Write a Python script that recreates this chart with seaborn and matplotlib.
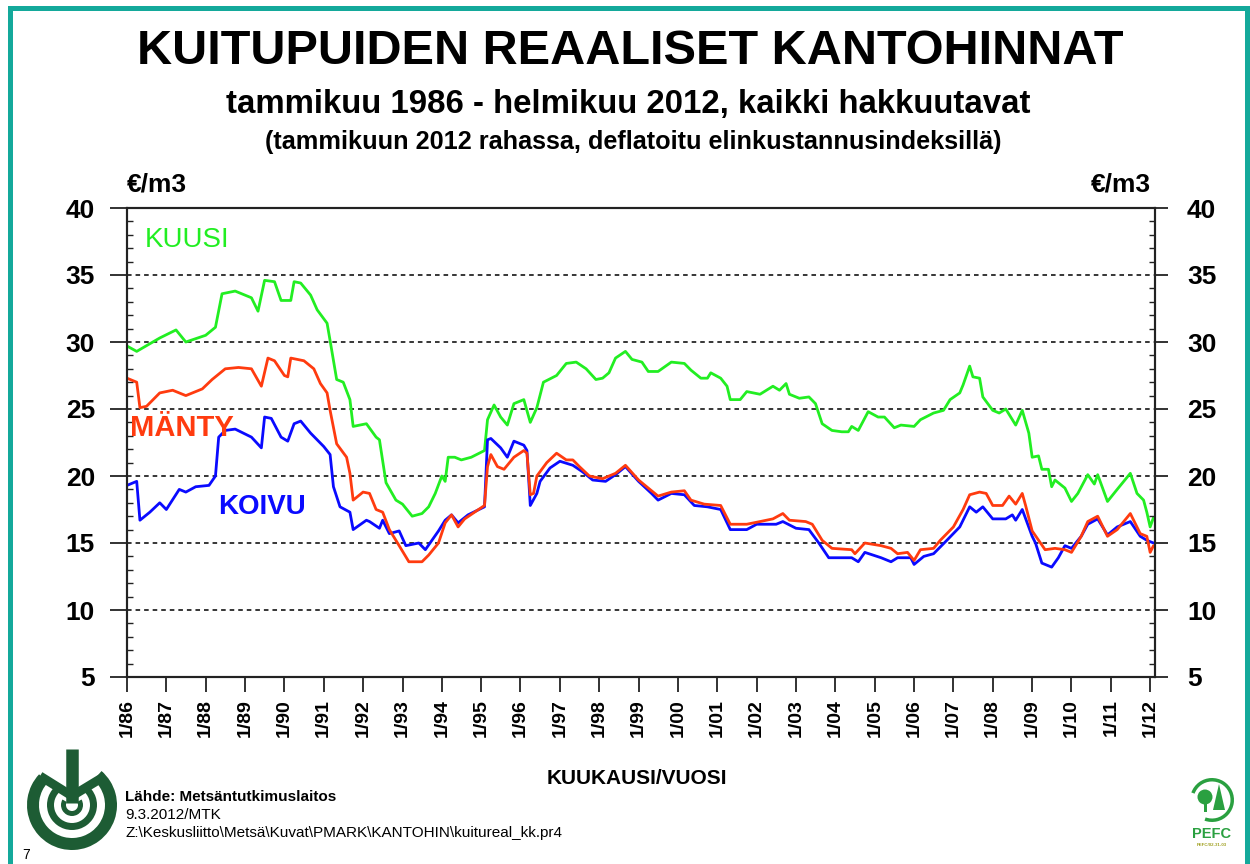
"""Kuitupuiden reaaliset kantohinnat 1986-2012 (kuusi, mänty, koivu)."""
import matplotlib
matplotlib.use("Agg")
import matplotlib.pyplot as plt
import matplotlib.dates as mdates
from matplotlib.patches import Rectangle, Wedge, Circle, Polygon
from matplotlib.ticker import MultipleLocator, FuncFormatter
import pandas as pd
import seaborn as sns

# --- data (€/m3, tammikuun 2012 rahassa) ---
KUUSI_DATES = [
    "1986-01", "1986-04", "1986-11",
    "1987-04", "1987-07",
    "1988-01", "1988-04", "1988-06", "1988-10",
    "1989-03", "1989-05", "1989-07", "1989-10", "1989-12",
    "1990-03", "1990-04", "1990-06", "1990-09", "1990-11",
    "1991-02", "1991-03", "1991-05", "1991-07", "1991-09", "1991-10",
    "1992-02", "1992-05", "1992-06", "1992-08", "1992-11",
    "1993-01", "1993-04", "1993-07", "1993-09", "1993-11",
    "1994-01", "1994-02", "1994-03", "1994-05", "1994-07", "1994-10",
    "1995-02", "1995-03", "1995-05", "1995-07", "1995-09", "1995-11",
    "1996-02", "1996-04", "1996-06", "1996-08", "1996-12",
    "1997-03", "1997-06", "1997-09", "1997-12",
    "1998-02", "1998-04", "1998-06", "1998-09", "1998-11",
    "1999-02", "1999-04", "1999-07", "1999-11",
    "2000-03", "2000-05", "2000-08", "2000-10", "2000-11",
    "2001-02", "2001-04", "2001-05", "2001-08", "2001-10",
    "2002-02", "2002-06", "2002-08", "2002-10", "2002-11",
    "2003-02", "2003-05", "2003-07", "2003-09", "2003-12",
    "2004-03", "2004-05", "2004-06", "2004-08", "2004-11",
    "2005-02", "2005-04", "2005-07", "2005-09",
    "2006-01", "2006-03", "2006-07", "2006-10", "2006-12",
    "2007-03", "2007-04", "2007-06", "2007-07", "2007-09", "2007-10",
    "2008-01", "2008-03", "2008-05", "2008-08", "2008-10", "2008-12",
    "2009-01", "2009-03", "2009-04", "2009-06", "2009-07", "2009-08", "2009-11",
    "2010-01", "2010-03", "2010-06", "2010-08", "2010-09", "2010-12",
    "2011-03", "2011-07", "2011-09", "2011-11", "2011-12",
    "2012-01", "2012-02",
]
KUUSI_VALUES = [
    29.7, 29.3, 30.3,
    30.9, 30.0,
    30.5, 31.1, 33.6, 33.8,
    33.3, 32.3, 34.6, 34.5, 33.1,
    33.1, 34.5, 34.4, 33.5, 32.4,
    31.4, 30.1, 27.2, 27.0, 25.7, 23.7,
    23.9, 22.9, 22.7, 19.5, 18.2,
    17.9, 17.0, 17.2, 17.7, 18.7,
    20.0, 19.6, 21.4, 21.4, 21.2, 21.4,
    21.9, 24.2, 25.3, 24.4, 23.8, 25.4,
    25.7, 24.0, 25.1, 27.0, 27.5,
    28.4, 28.5, 28.0, 27.2,
    27.3, 27.7, 28.8, 29.3, 28.7,
    28.5, 27.8, 27.8, 28.5,
    28.4, 27.9, 27.3, 27.3, 27.7,
    27.3, 26.7, 25.7, 25.7, 26.3,
    26.1, 26.7, 26.4, 26.9, 26.1,
    25.8, 25.9, 25.4, 23.9, 23.4,
    23.3, 23.3, 23.7, 23.4, 24.8,
    24.4, 24.4, 23.6, 23.8,
    23.7, 24.2, 24.7, 24.9, 25.7,
    26.2, 26.8, 28.2, 27.4, 27.3, 25.9,
    24.9, 24.7, 25.0, 23.8, 24.9, 23.2,
    21.4, 21.5, 20.5, 20.5, 19.2, 19.7, 19.1,
    18.1, 18.7, 20.1, 19.4, 20.1, 18.1,
    19.0, 20.2, 18.7, 18.2, 17.3,
    16.2, 16.9,
]

MANTY_DATES = [
    "1986-01", "1986-04", "1986-05", "1986-07", "1986-11",
    "1987-03", "1987-07", "1987-12",
    "1988-03", "1988-07", "1988-11",
    "1989-03", "1989-06", "1989-08", "1989-10",
    "1990-01", "1990-02", "1990-03", "1990-07", "1990-10", "1990-12",
    "1991-02", "1991-03", "1991-05", "1991-08", "1991-09", "1991-10",
    "1992-01", "1992-03", "1992-05", "1992-07", "1992-09", "1992-12",
    "1993-03", "1993-07", "1993-09", "1993-12",
    "1994-02", "1994-04", "1994-06", "1994-08", "1994-11",
    "1995-02", "1995-03", "1995-04", "1995-06", "1995-08", "1995-11",
    "1996-02", "1996-03", "1996-04", "1996-05", "1996-06", "1996-09", "1996-12",
    "1997-03", "1997-05", "1997-07", "1997-10",
    "1998-02", "1998-06", "1998-09",
    "1999-01", "1999-04", "1999-07", "1999-11",
    "2000-03", "2000-05", "2000-09",
    "2001-02", "2001-05", "2001-10",
    "2002-02", "2002-06", "2002-09", "2002-11",
    "2003-04", "2003-06", "2003-09", "2003-12",
    "2004-06", "2004-07", "2004-10",
    "2005-03", "2005-06", "2005-08", "2005-11",
    "2006-01", "2006-03", "2006-07", "2006-09",
    "2007-01", "2007-04", "2007-06", "2007-09", "2007-11",
    "2008-01", "2008-04", "2008-06", "2008-08", "2008-10", "2008-11",
    "2009-01", "2009-05", "2009-08", "2009-11",
    "2010-01", "2010-04", "2010-06", "2010-09", "2010-12",
    "2011-03", "2011-07", "2011-10", "2011-12",
    "2012-01", "2012-02",
]
MANTY_VALUES = [
    27.3, 27.0, 25.1, 25.2, 26.2,
    26.4, 26.0, 26.5,
    27.2, 28.0, 28.1,
    28.0, 26.7, 28.8, 28.6,
    27.5, 27.4, 28.8, 28.6, 28.0, 26.9,
    26.2, 24.9, 22.4, 21.4, 20.2, 18.2,
    18.8, 18.7, 17.5, 17.3, 16.0, 14.8,
    13.6, 13.6, 14.1, 15.0,
    16.5, 17.1, 16.2, 16.8, 17.3,
    17.8, 20.7, 21.6, 20.7, 20.5, 21.4,
    21.9, 21.7, 18.6, 18.7, 20.0, 21.0, 21.7,
    21.2, 21.2, 20.7, 20.0,
    19.8, 20.2, 20.8,
    19.7, 19.1, 18.5, 18.8,
    18.9, 18.2, 17.9,
    17.8, 16.4, 16.4,
    16.6, 16.8, 17.2, 16.7,
    16.6, 16.4, 15.2, 14.6,
    14.5, 14.2, 15.0,
    14.8, 14.6, 14.2, 14.3,
    13.7, 14.5, 14.6, 15.2,
    16.2, 17.5, 18.6, 18.8, 18.7,
    17.8, 17.8, 18.5, 17.9, 18.7, 17.8,
    15.9, 14.5, 14.6, 14.5,
    14.3, 15.5, 16.6, 17.0, 15.5,
    16.0, 17.2, 15.7, 15.5,
    14.3, 14.8,
]

KOIVU_DATES = [
    "1986-01", "1986-04", "1986-05", "1986-08", "1986-11",
    "1987-01", "1987-05", "1987-07", "1987-10",
    "1988-02", "1988-04", "1988-05", "1988-07", "1988-10",
    "1989-03", "1989-06", "1989-07", "1989-09", "1989-12",
    "1990-02", "1990-04", "1990-06", "1990-09",
    "1991-01", "1991-03", "1991-04", "1991-06", "1991-09", "1991-10",
    "1992-02", "1992-03", "1992-06", "1992-07", "1992-09", "1992-12",
    "1993-02", "1993-06", "1993-08", "1993-12",
    "1994-02", "1994-04", "1994-06", "1994-09",
    "1995-02", "1995-03", "1995-04", "1995-07", "1995-09", "1995-11",
    "1996-02", "1996-03", "1996-04", "1996-06", "1996-07", "1996-10",
    "1997-01", "1997-05", "1997-08", "1997-11",
    "1998-03", "1998-06", "1998-09",
    "1999-01", "1999-05", "1999-07", "1999-11",
    "2000-03", "2000-06", "2000-10",
    "2001-02", "2001-05", "2001-10",
    "2002-01", "2002-07", "2002-09",
    "2003-01", "2003-05", "2003-08", "2003-11",
    "2004-02", "2004-06", "2004-08", "2004-10",
    "2005-03", "2005-06", "2005-08", "2005-12",
    "2006-01", "2006-04", "2006-07", "2006-11",
    "2007-03", "2007-06", "2007-08", "2007-10",
    "2008-01", "2008-05", "2008-07", "2008-08", "2008-10",
    "2009-01", "2009-02", "2009-04", "2009-07", "2009-09", "2009-11",
    "2010-01", "2010-04", "2010-06", "2010-09", "2010-12",
    "2011-03", "2011-07", "2011-10", "2011-12",
    "2012-02",
]
KOIVU_VALUES = [
    19.3, 19.6, 16.7, 17.3, 18.0,
    17.5, 19.0, 18.8, 19.2,
    19.3, 20.0, 22.9, 23.4, 23.5,
    22.9, 22.1, 24.4, 24.3, 22.9,
    22.6, 23.9, 24.1, 23.2,
    22.2, 21.6, 19.2, 17.7, 17.3, 16.0,
    16.7, 16.6, 16.1, 16.7, 15.7, 15.9,
    14.8, 15.0, 14.5, 15.9,
    16.7, 17.1, 16.5, 17.1,
    17.7, 22.7, 22.8, 22.1, 21.4, 22.6,
    22.3, 21.9, 17.8, 18.7, 19.6, 20.6,
    21.1, 20.8, 20.3, 19.7,
    19.6, 20.1, 20.7,
    19.6, 18.7, 18.2, 18.7,
    18.6, 17.8, 17.7,
    17.5, 16.0, 16.0,
    16.4, 16.4, 16.6,
    16.1, 16.0, 15.0, 13.9,
    13.9, 13.9, 13.6, 14.3,
    13.9, 13.6, 13.9, 13.9,
    13.4, 14.0, 14.2, 15.2,
    16.2, 17.7, 17.3, 17.7,
    16.8, 16.8, 17.1, 16.7, 17.5,
    15.5, 15.0, 13.5, 13.2, 13.9, 14.8,
    14.6, 15.5, 16.4, 16.8, 15.6,
    16.2, 16.6, 15.5, 15.2,
    15.0,
]

SERIES = ["KUUSI", "KOIVU", "MÄNTY"]
COLORS = {"KUUSI": "#22ee22", "MÄNTY": "#ff3b0f", "KOIVU": "#0a0aff"}

W, H = 1250, 864


def fx(px):
    return px / W


def fy(py):
    return 1 - py / H


def build_frame():
    parts = []
    for name, dates, vals in [("KUUSI", KUUSI_DATES, KUUSI_VALUES),
                              ("KOIVU", KOIVU_DATES, KOIVU_VALUES),
                              ("MÄNTY", MANTY_DATES, MANTY_VALUES)]:
        parts.append(pd.DataFrame({"laji": name,
                                   "kk": pd.to_datetime(dates, format="%Y-%m"),
                                   "hinta": vals}))
    return pd.concat(parts, ignore_index=True)


def draw_mtk_logo(fig):
    g = "#1d5c34"
    lax = fig.add_axes([fx(27), fy(850), fx(92), 104 / H])
    lax.set_xlim(0, 92); lax.set_ylim(0, 104); lax.axis("off")
    c = (45, 45)
    lax.add_patch(Wedge(c, 45, 137, 409, width=12, fc=g, lw=0))
    lax.add_patch(Wedge(c, 25, 125, 415, width=7, fc=g, lw=0))
    lax.add_patch(Wedge(c, 11, 150, 390, width=5, fc=g, lw=0))
    lax.plot([c[0], c[0]], [c[1] + 2, 101], color=g, lw=9, solid_capstyle="butt")
    lax.plot([13, c[0], 78], [74, 54, 74], color=g, lw=6.5, solid_capstyle="butt",
             solid_joinstyle="miter")


def draw_pefc_logo(fig):
    g = "#2aa040"
    lax = fig.add_axes([fx(1183), fy(852), fx(58), 78 / H])
    lax.set_xlim(0, 58); lax.set_ylim(0, 78); lax.axis("off")
    lax.add_patch(Wedge((29, 52), 22, 250, 160, width=3.5, fc=g, lw=0))
    lax.add_patch(Circle((22, 55), 7.5, fc=g, lw=0))
    lax.add_patch(Rectangle((20.5, 40), 3, 10, fc=g, lw=0))
    lax.add_patch(Polygon([[30, 42], [42, 42], [36, 68]], closed=True, fc=g, lw=0))
    lax.text(29, 18, "PEFC", ha="center", va="center", fontsize=10.5,
             fontweight="bold", color=g)
    lax.text(29, 7, "PEFC/02-31-03", ha="center", va="center", fontsize=3.2,
             fontweight="bold", color="#a0a020")


def main():
    sns.set_style("ticks")
    plt.rcParams["font.family"] = ["Liberation Sans", "DejaVu Sans"]
    plt.rcParams["font.weight"] = "bold"
    plt.rcParams["text.color"] = "black"
    plt.rcParams["xtick.labelcolor"] = "black"
    plt.rcParams["ytick.labelcolor"] = "black"

    df = build_frame()

    fig = plt.figure(figsize=(W / 100, H / 100), dpi=100)
    ax = fig.add_axes([fx(127), fy(677), fx(1028), 469 / H])

    sns.lineplot(data=df, x="kk", y="hinta", hue="laji", hue_order=SERIES,
                 palette=COLORS, lw=2.0, legend=False, ax=ax, zorder=3)

    ax.set_xlim(pd.Timestamp("1986-01-01"), pd.Timestamp("2012-02-15"))
    ax.set_ylim(5, 40)
    ax.set_xlabel(""); ax.set_ylabel("")

    ax.yaxis.set_major_locator(MultipleLocator(5))
    ax.yaxis.set_minor_locator(MultipleLocator(1))
    ax.xaxis.set_major_locator(mdates.YearLocator(1, month=1, day=1))
    ax.xaxis.set_major_formatter(FuncFormatter(
        lambda v, pos: f"1/{mdates.num2date(v).year % 100:02d}"))

    ax.set_axisbelow(True)
    ax.grid(axis="y", which="major", color="black", lw=1.1, ls=(0, (3, 2.6)))
    ax.grid(axis="x", visible=False)

    ax.tick_params(axis="x", which="major", direction="out", length=11, width=1.3,
                   pad=5, labelsize=14, labelrotation=90, color="#222222",
                   labelcolor="black")
    ax.tick_params(axis="y", which="major", direction="out", length=12.5, width=1.3,
                   pad=10.5, labelsize=19, color="#222222", labelcolor="black")
    ax.tick_params(axis="y", which="minor", direction="in", length=4, width=1.0,
                   color="#222222")

    ax2 = ax.twinx()
    ax2.set_ylim(5, 40)
    ax2.yaxis.set_major_locator(MultipleLocator(5))
    ax2.yaxis.set_minor_locator(MultipleLocator(1))
    ax2.tick_params(axis="y", which="major", direction="out", length=9.5, width=1.3,
                    pad=13.5, labelsize=19, color="#222222", labelcolor="black")
    ax2.tick_params(axis="y", which="minor", direction="in", length=4, width=1.0,
                    color="#222222")
    ax2.set_ylabel("")

    for a in (ax, ax2):
        for s in a.spines.values():
            s.set_linewidth(1.5)
            s.set_color("#222222")

    # series labels
    ax.text((145 - 127) / 1028, (677 - 240) / 469, "KUUSI", transform=ax.transAxes,
            color=COLORS["KUUSI"], fontsize=20, fontweight="normal", va="center")
    ax.text((130 - 127) / 1028, (677 - 428) / 469, "MÄNTY", transform=ax.transAxes,
            color=COLORS["MÄNTY"], fontsize=21, fontweight="bold", va="center")
    ax.text((218 - 127) / 1028, (677 - 507) / 469, "KOIVU", transform=ax.transAxes,
            color=COLORS["KOIVU"], fontsize=20, fontweight="bold", va="center")

    # titles
    fig.text(fx(630), fy(52), "KUITUPUIDEN REAALISET KANTOHINNAT", ha="center",
             va="center", fontsize=35, fontweight="bold")
    fig.text(fx(628), fy(105), "tammikuu 1986 - helmikuu 2012, kaikki hakkuutavat",
             ha="center", va="center", fontsize=23.8, fontweight="bold")
    fig.text(fx(633), fy(142), "(tammikuun 2012 rahassa, deflatoitu elinkustannusindeksillä)",
             ha="center", va="center", fontsize=18.2, fontweight="bold")
    fig.text(fx(127), fy(185), "€/m3", ha="left", va="center", fontsize=19,
             fontweight="bold")
    fig.text(fx(1151), fy(185), "€/m3", ha="right", va="center", fontsize=19,
             fontweight="bold")
    fig.text(fx(637), fy(778), "KUUKAUSI/VUOSI", ha="center", va="center",
             fontsize=15, fontweight="bold")

    # footer
    fig.text(fx(125), fy(797), "Lähde: Metsäntutkimuslaitos", ha="left", va="center",
             fontsize=11, fontweight="bold")
    fig.text(fx(125), fy(815), "9.3.2012/MTK", ha="left", va="center",
             fontsize=11, fontweight="normal")
    fig.text(fx(125), fy(833), r"Z:\Keskusliitto\Metsä\Kuvat\PMARK\KANTOHIN\kuitureal_kk.pr4",
             ha="left", va="center", fontsize=11, fontweight="normal")
    fig.text(fx(22), fy(855), "7", ha="left", va="center", fontsize=10,
             fontweight="normal")

    draw_mtk_logo(fig)
    draw_pefc_logo(fig)

    fig.add_artist(Rectangle((fx(10), -0.05), fx(1237), 1.05 - 8 / H,
                             transform=fig.transFigure, fill=False,
                             ec="#14a99b", lw=3.6))

    fig.savefig("out.png", dpi=100)
    plt.close(fig)


if __name__ == "__main__":
    main()
